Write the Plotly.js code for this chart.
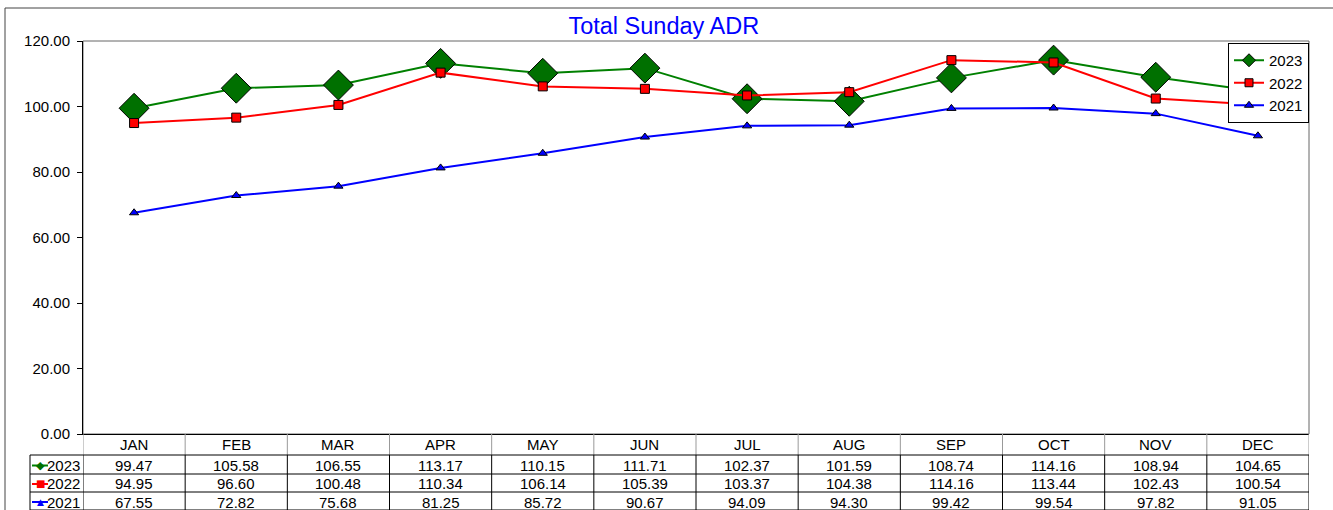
<!DOCTYPE html>
<html><head><meta charset="utf-8">
<script src="https://cdn.plot.ly/plotly-3.0.1.min.js"></script>
<style>html,body{margin:0;padding:0;background:#fff}#chart{width:1333px;height:510px}</style></head>
<body><div id="chart"></div><script>
const months = ['JAN','FEB','MAR','APR','MAY','JUN','JUL','AUG','SEP','OCT','NOV','DEC'];
const adr2023 = [99.47,105.58,106.55,113.17,110.15,111.71,102.37,101.59,108.74,114.16,108.94,104.65];
const adr2022 = [94.95,96.60,100.48,110.34,106.14,105.39,103.37,104.38,114.16,113.44,102.43,100.54];
const adr2021 = [67.55,72.82,75.68,81.25,85.72,90.67,94.09,94.30,99.42,99.54,97.82,91.05];
const seriesNames = ['2023','2022','2021'];

const FONT = 'Arial, "Liberation Sans", sans-serif';
const L = 83, R = 1309, T = 41, B = 434, W = R - L, H = B - T;
const px = x => (x - L) / W;
const py = y => (B - y) / H;

const styles = [
  {line:'#008000', fill:'#007000', sym:'diamond', size:23, legSize:10, glyph:'◆', gsize:11},
  {line:'#FF0000', fill:'#FF0000', sym:'square', size:9, legSize:8, glyph:'■', gsize:10},
  {line:'#0000FF', fill:'#0000FF', sym:'triangle-up', size:8, legSize:8, glyph:'▲', gsize:9}
];
const seriesData = [adr2023, adr2022, adr2021];

const traces = seriesData.map((d, i) => ({
  type:'scatter', mode:'lines+markers', name: seriesNames[i], showlegend:false,
  x: months, y: d,
  line:{color: styles[i].line, width:2},
  marker:{symbol: styles[i].sym, size: styles[i].size, color: styles[i].fill, line:{color:'#000', width:1}}
}));
seriesNames.forEach((n, i) => traces.push({
  type:'scatter', mode:'lines+markers', name:n, x:[null], y:[null], showlegend:true,
  line:{color: styles[i].line, width:2},
  marker:{symbol: styles[i].sym, size: styles[i].legSize, color: styles[i].fill, line:{color:'#000', width:1}}
}));

const shapes = [];
const annotations = [];
shapes.push({type:'rect', xref:'paper', yref:'paper', x0:px(5), x1:px(1345), y0:py(530), y1:py(8), line:{color:'#444', width:1}, layer:'below'});
shapes.push({type:'rect', xref:'paper', yref:'paper', x0:0, x1:1, y0:0, y1:1, line:{color:'#666', width:1}, layer:'below'});

const rowTops = [434, 455, 474, 492, 510];
for (let i = 0; i <= months.length; i++) {
  shapes.push({type:'line', xref:'x', yref:'paper', x0:i-0.5, x1:i-0.5, y0:py(rowTops[0]), y1:py(rowTops[1]), line:{color:'#999', width:1}});
  shapes.push({type:'line', xref:'x', yref:'paper', x0:i-0.5, x1:i-0.5, y0:py(rowTops[1]), y1:py(rowTops[4]), line:{color:'#000', width:1}});
}
shapes.push({type:'line', xref:'paper', yref:'paper', x0:px(30), x1:px(30), y0:py(rowTops[1]), y1:py(rowTops[4]), line:{color:'#000', width:1}});
for (let r = 1; r < rowTops.length; r++) {
  shapes.push({type:'line', xref:'paper', yref:'paper', x0:px(30), x1:1, y0:py(rowTops[r]), y1:py(rowTops[r]), line:{color:'#000', width:1}});
}
months.forEach((m, i) => {
  annotations.push({xref:'x', yref:'paper', x:m, y:py((rowTops[0]+rowTops[1])/2), text:m, showarrow:false,
    font:{family:FONT, size:15, color:'#000'}, xanchor:'center', yanchor:'middle'});
});
seriesData.forEach((d, r) => {
  const yc = py((rowTops[r+1] + rowTops[r+2]) / 2 + 1);
  d.forEach((v, i) => {
    annotations.push({xref:'x', yref:'paper', x:months[i], y:yc, text:v.toFixed(2), showarrow:false,
      font:{family:FONT, size:15, color:'#000'}, xanchor:'center', yanchor:'middle'});
  });
  annotations.push({xref:'paper', yref:'paper', x:px(82), y:yc, text:seriesNames[r], showarrow:false,
    font:{family:FONT, size:15, color:'#000'}, xanchor:'right', yanchor:'middle'});
  shapes.push({type:'line', xref:'paper', yref:'paper', x0:px(32), x1:px(48), y0:yc, y1:yc, line:{color:styles[r].line, width:2}});
  annotations.push({xref:'paper', yref:'paper', x:px(40), y:yc, text:styles[r].glyph, showarrow:false,
    font:{family:'"DejaVu Sans", sans-serif', size:styles[r].gsize, color:styles[r].fill}, xanchor:'center', yanchor:'middle'});
});

const layout = {
  width:1333, height:510,
  margin:{l:L, r:1333-R, t:T, b:510-B, pad:0},
  paper_bgcolor:'#fff', plot_bgcolor:'#fff',
  title:{text:'Total Sunday ADR', font:{family:FONT, size:23.5, color:'#0000FF'}, x:0.498, xref:'container', xanchor:'center', y:1-26/510, yanchor:'middle'},
  xaxis:{type:'category', range:[-0.5, 11.5], showticklabels:false, ticks:'', showgrid:false, zeroline:false,
    showline:true, linecolor:'#000', linewidth:1, fixedrange:true},
  yaxis:{range:[0,120], dtick:20, tickformat:'.2f', ticks:'outside', ticklen:5, tickcolor:'#000', showgrid:false,
    zeroline:false, showline:true, linecolor:'#000', linewidth:1, tickfont:{family:FONT, size:15, color:'#000'},
    ticklabelstandoff:4, fixedrange:true},
  showlegend:true,
  legend:{x:1, xanchor:'right', y:py(43), yanchor:'top', bgcolor:'#fff', bordercolor:'#000', borderwidth:1,
    font:{family:FONT, size:15, color:'#000'}, itemsizing:'trace', itemwidth:30, tracegroupgap:0},
  shapes: shapes,
  annotations: annotations
};
Plotly.newPlot('chart', traces, layout, {staticPlot:true, displayModeBar:false});
</script></body></html>
